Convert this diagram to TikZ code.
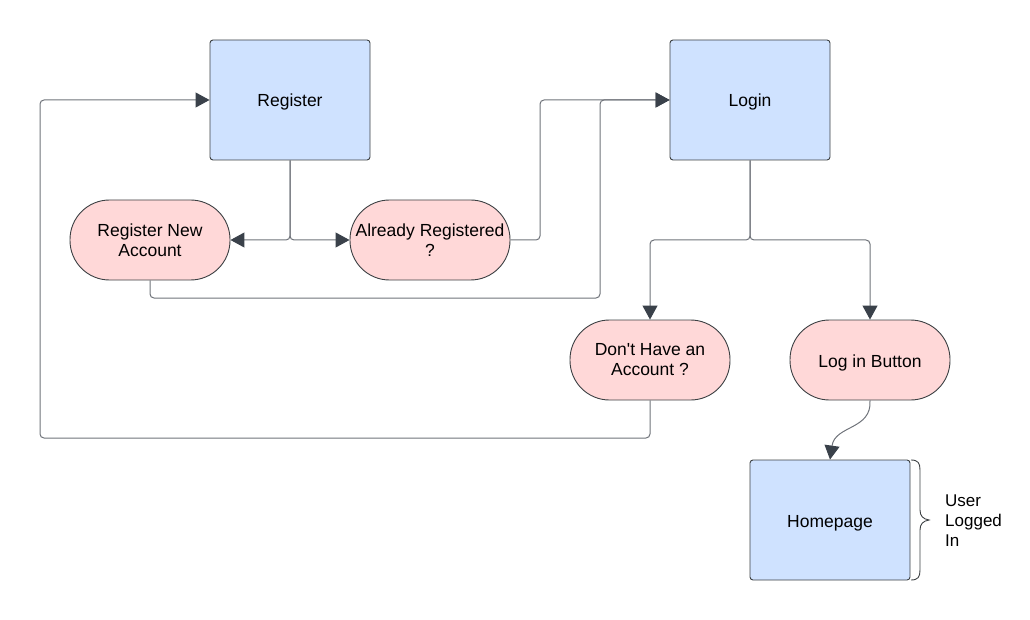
\documentclass[tikz,border=0pt]{standalone}
\usepackage{fontspec}
\setmainfont{Liberation Sans}[Ligatures=TeXOff]
\usetikzlibrary{arrows.meta}
\definecolor{boxblue}{HTML}{CFE2FF}
\definecolor{boxpink}{HTML}{FFD8D8}
\definecolor{edge}{HTML}{3C4043}
\definecolor{linec}{HTML}{6F737A}
\definecolor{tipc}{HTML}{3A414A}
\newcommand{\lowtext}[1]{\raisebox{-7pt}[0pt][0pt]{#1}}
\tikzset{
  x=1pt, y=-1pt,
  base/.style={draw=edge, line width=0.9pt, minimum width=160pt, align=center, font=\fontsize{17.5}{20}\selectfont, inner sep=0pt},
  bluebox/.style={base, fill=boxblue, minimum height=120pt, rounded corners=3pt},
  pinkbox/.style={base, fill=boxpink, minimum height=80pt, rounded corners=39.5pt},
  conn/.style={draw=linec, line width=1pt, rounded corners=4pt, -{Triangle[length=14pt,width=15pt,color=tipc]}}
}
\begin{document}
\begin{tikzpicture}
\useasboundingbox (0,0) rectangle (1030,620);
\node[bluebox] (reg) at (290,100) {\lowtext{Register}};
\node[bluebox] (login) at (750,100) {\lowtext{Login}};
\node[pinkbox] (rna) at (150,240) {Register New\\Account};
\node[pinkbox] (ar) at (430,240) {Already Registered\\?};
\node[pinkbox] (dha) at (650,360) {Don't Have an\\Account ?};
\node[pinkbox] (lib) at (870,360) {\lowtext{Log in Button}};
\node[bluebox] (home) at (830,520) {\lowtext{Homepage}};
\node[align=left, anchor=west, font=\fontsize{17}{20}\selectfont, inner sep=0pt] (ul) at (945,521) {User\\Logged\\In};
% brace
\draw[edge, line width=0.9pt] (911,460) .. controls (918,460) and (920,463) .. (920,470) -- (920,510) .. controls (920,516) and (923,519) .. (929,520) .. controls (923,521) and (920,524) .. (920,530) -- (920,570) .. controls (920,577) and (918,580) .. (911,580);
% connectors
\draw[conn] (reg.south) |- (rna.east);
\draw[conn] (reg.south) |- (ar.west);
\draw[conn] (ar.east) -| (540,100) -- (login.west);
\draw[conn] (rna.south) |- (600,298) |- (login.west);
\draw[conn] (login.south) |- (650,240) -- (dha.north);
\draw[conn] (login.south) |- (870,240) -- (lib.north);
\draw[conn] (dha.south) |- (40,438) |- (reg.west);
\draw[conn] (lib.south) .. controls (872,430) and (835,425) .. (home.north);
\end{tikzpicture}
\end{document}
